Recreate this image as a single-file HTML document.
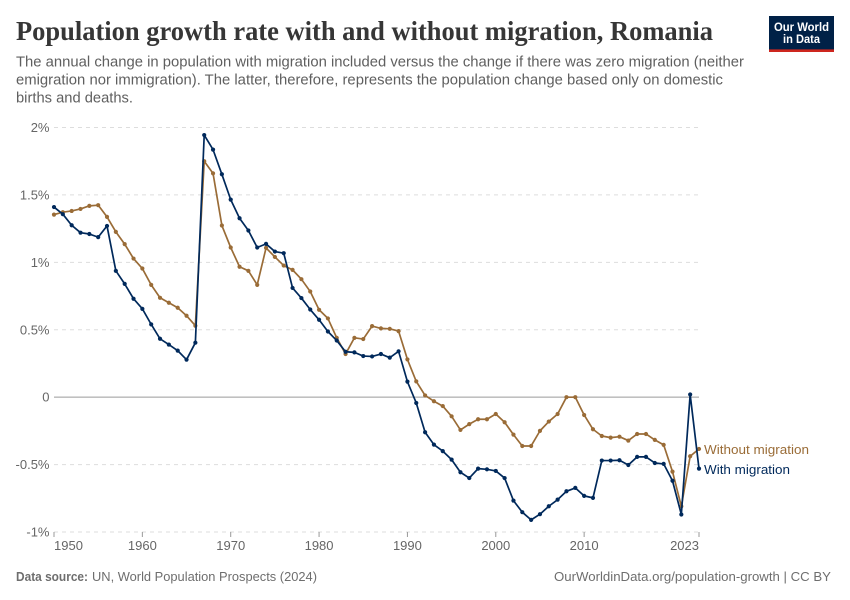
<!DOCTYPE html>
<html lang="en">
<head>
<meta charset="utf-8">
<title>Population growth rate with and without migration, Romania</title>
<style>
html,body{margin:0;padding:0;background:#fff;width:850px;height:600px;overflow:hidden}
svg{display:block}
text{font-family:"Liberation Sans",sans-serif}
.title{font-family:"Liberation Serif",serif;font-weight:700}
</style>
</head>
<body>
<svg id="chart" xmlns="http://www.w3.org/2000/svg" width="850" height="600" viewBox="0 0 850 600">
  <rect width="850" height="600" fill="#fff"/>
  <text class="title" x="16" y="40" font-size="27" fill="#363636" textLength="697" lengthAdjust="spacingAndGlyphs">Population growth rate with and without migration, Romania</text>
  <text x="16" y="66.5" font-size="14.5" fill="#5f5f5f" textLength="728" lengthAdjust="spacingAndGlyphs">The annual change in population with migration included versus the change if there was zero migration (neither</text>
  <text x="16" y="84.5" font-size="14.5" fill="#5f5f5f" textLength="707" lengthAdjust="spacingAndGlyphs">emigration nor immigration). The latter, therefore, represents the population change based only on domestic</text>
  <text x="16" y="102.5" font-size="14.5" fill="#5f5f5f" textLength="117" lengthAdjust="spacingAndGlyphs">births and deaths.</text>
  <g>
    <rect x="769" y="16" width="65" height="36" fill="#002147"/>
    <rect x="769" y="49.4" width="65" height="2.6" fill="#ce261e"/>
    <text x="801.5" y="31" font-size="12" font-weight="700" fill="#fff" text-anchor="middle" textLength="55" lengthAdjust="spacingAndGlyphs">Our World</text>
    <text x="801.5" y="43" font-size="12" font-weight="700" fill="#fff" text-anchor="middle" textLength="37" lengthAdjust="spacingAndGlyphs">in Data</text>
  </g>
  <g id="grid"></g>
  <g id="yaxis"></g>
  <g id="xaxis"></g>
  <g id="series"></g>
  <text x="704" y="454" font-size="13" fill="#9a6c37" textLength="105" lengthAdjust="spacingAndGlyphs">Without migration</text>
  <text x="704" y="474" font-size="13" fill="#00295b" textLength="86" lengthAdjust="spacingAndGlyphs">With migration</text>
  <text x="16" y="581" font-size="13" fill="#6e6e6e"><tspan font-weight="700" textLength="72" lengthAdjust="spacingAndGlyphs">Data source:</tspan><tspan x="92" textLength="225" lengthAdjust="spacingAndGlyphs">UN, World Population Prospects (2024)</tspan></text>
  <text x="554" y="581" font-size="13" fill="#6e6e6e" textLength="277" lengthAdjust="spacingAndGlyphs">OurWorldinData.org/population-growth | CC BY</text>
</svg>
<script>
const startYear = 1950;
const endYear = 2023;
const yTicks = [2, 1.5, 1, 0.5, 0, -0.5, -1];
const yTickLabels = ["2%", "1.5%", "1%", "0.5%", "0", "-0.5%", "-1%"];
const xTicks = [1950, 1960, 1970, 1980, 1990, 2000, 2010, 2023];
const withMigration = [
  1.41, 1.357, 1.275, 1.22, 1.21, 1.187, 1.27, 0.937, 0.84, 0.73,
  0.655, 0.54, 0.433, 0.39, 0.345, 0.278, 0.404, 1.944, 1.836, 1.653,
  1.465, 1.327, 1.236, 1.11, 1.137, 1.08, 1.068, 0.81, 0.735, 0.65,
  0.574, 0.487, 0.42, 0.337, 0.332, 0.305, 0.302, 0.32, 0.293, 0.34,
  0.115, -0.043, -0.26, -0.352, -0.4, -0.463, -0.557, -0.6, -0.53, -0.535,
  -0.547, -0.6, -0.767, -0.853, -0.91, -0.868, -0.809, -0.76, -0.698, -0.673,
  -0.732, -0.747, -0.47, -0.47, -0.468, -0.503, -0.443, -0.443, -0.488, -0.495,
  -0.62, -0.87, 0.02, -0.53
];
const withoutMigration = [
  1.354, 1.372, 1.381, 1.396, 1.419, 1.424, 1.337, 1.226, 1.135, 1.028,
  0.954, 0.833, 0.737, 0.7, 0.663, 0.604, 0.53, 1.75, 1.66, 1.273,
  1.11, 0.967, 0.937, 0.833, 1.107, 1.04, 0.976, 0.944, 0.875, 0.784,
  0.648, 0.584, 0.44, 0.32, 0.44, 0.431, 0.527, 0.51, 0.507, 0.49,
  0.28, 0.117, 0.013, -0.03, -0.066, -0.142, -0.243, -0.2, -0.164, -0.164,
  -0.125, -0.186, -0.278, -0.362, -0.362, -0.25, -0.181, -0.125, 0, 0,
  -0.132, -0.238, -0.288, -0.3, -0.293, -0.322, -0.273, -0.273, -0.317, -0.354,
  -0.552, -0.81, -0.438, -0.384
];

const NS = "http://www.w3.org/2000/svg";
const plotLeft = 54, plotRight = 699, plotTop = 127.5, plotBottom = 532;
const xScale = function (year) {
  return plotLeft + (year - startYear) / (endYear - startYear) * (plotRight - plotLeft);
};
const yScale = function (v) {
  return plotBottom - (v - (-1)) / 3 * (plotBottom - plotTop);
};
function make(tag, attrs, parent) {
  const el = document.createElementNS(NS, tag);
  for (const k in attrs) el.setAttribute(k, attrs[k]);
  parent.appendChild(el);
  return el;
}

const grid = document.getElementById("grid");
const yaxis = document.getElementById("yaxis");
const xaxis = document.getElementById("xaxis");
const seriesGroup = document.getElementById("series");

yTicks.forEach(function (t, i) {
  const zero = t === 0;
  const line = make("line", {
    x1: plotLeft, x2: plotRight, y1: yScale(t), y2: yScale(t),
    stroke: zero ? "#9a9a9a" : "#dddddd",
    "stroke-width": 1,
    "stroke-dasharray": zero ? "none" : "4 4"
  }, grid);
  
  
  const label = make("text", {
    x: 49.5, y: yScale(t) + 4.5, "text-anchor": "end", "font-size": 13, fill: "#666666"
  }, yaxis);
  
  
  label.textContent = yTickLabels[i];
});

xTicks.forEach(function (year) {
  const tick = make("line", {
    x1: xScale(year), x2: xScale(year), y1: plotBottom, y2: plotBottom + 5,
    stroke: "#999999", "stroke-width": 1
  }, xaxis);
  
  
  const first = year === startYear, last = year === endYear;
  const label = make("text", {
    x: xScale(year),
    y: 550,
    "text-anchor": first ? "start" : (last ? "end" : "middle"),
    "font-size": 13, fill: "#666666"
  }, xaxis);
  
  
  label.textContent = String(year);
});

function drawSeries(values, color, name) {
  const g = make("g", {}, seriesGroup);
  
  
  const pts = values.map(function (v, i) {
    return xScale(startYear + i).toFixed(2) + "," + yScale(v).toFixed(2);
  }).join(" ");
  const line = make("polyline", {
    points: pts, fill: "none", stroke: color, "stroke-width": 1.7, "stroke-linejoin": "round"
  }, g);
  
  
  values.forEach(function (v, i) {
    const c = make("circle", {
      cx: xScale(startYear + i), cy: yScale(v), r: 2.1, fill: color
    }, g);
    
    
  });
}
drawSeries(withoutMigration, "#9a6c37", "series-without-migration");
drawSeries(withMigration, "#00295b", "series-with-migration");
</script>
</body>
</html>
